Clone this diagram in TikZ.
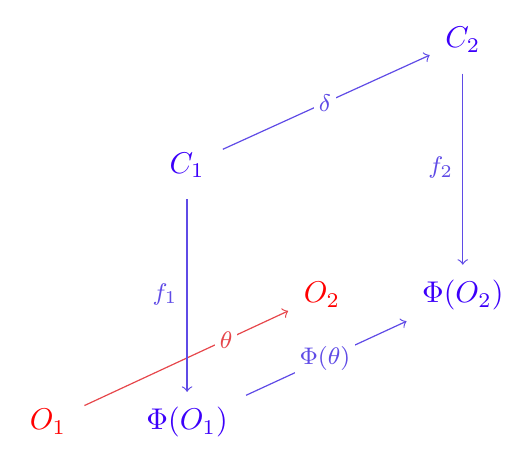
\documentclass[tikz,border=0pt]{standalone}
\usepackage{amsmath}
\usepackage{amssymb}
\usepackage{tikz}
\usetikzlibrary{arrows}

\definecolor{objblue}{RGB}{60,0,250}
\definecolor{mapblue}{RGB}{95,75,230}
\definecolor{mapred}{RGB}{230,70,75}

\tikzset{
	obj/.style={text=objblue, inner sep=5pt, text height=7.5pt, text depth=2.5pt},
	objred/.style={obj, text=red},
	map/.style={draw=mapblue, shorten <=1pt},
	mapred/.style={draw=mapred, shorten <=1pt},
	lbl/.style={font=\footnotesize, fill=white, inner sep=1.5pt, text=mapblue},
	sidelbl/.style={font=\footnotesize, text=mapblue, left, inner sep=3pt}
}

\begin{document}
\begin{tikzpicture}[->]
		\useasboundingbox (-0.562,-0.369) rectangle (5.636,4.950);
		\node[objred] (O1)  at (0,0)       {$O_1$};
		\node[obj]    (PO1) at (1.63,0)    {$\Phi(O_1)$};
		\node[obj]    (C1)  at (1.63,3.01) {$C_1$};
		\node[objred] (O2)  at (3.21,1.49) {$O_2$};
		\node[obj]    (PO2) at (4.86,1.49) {$\Phi(O_2)$};
		\node[obj]    (C2)  at (4.86,4.48) {$C_2$};
		\path
			(O1)  edge [mapred] node [lbl, pos=0.7, text=mapred] {$\theta$} (O2)
			(C1)  edge [map]    node [lbl]     {$\delta$}       (C2)
			(C1)  edge [map]    node [sidelbl] {$f_1$}          (PO1)
			(C2)  edge [map]    node [sidelbl] {$f_2$}          (PO2)
			(PO1) edge [map]    node [lbl]     {$\Phi(\theta)$} (PO2);
	\end{tikzpicture}
\end{document}
